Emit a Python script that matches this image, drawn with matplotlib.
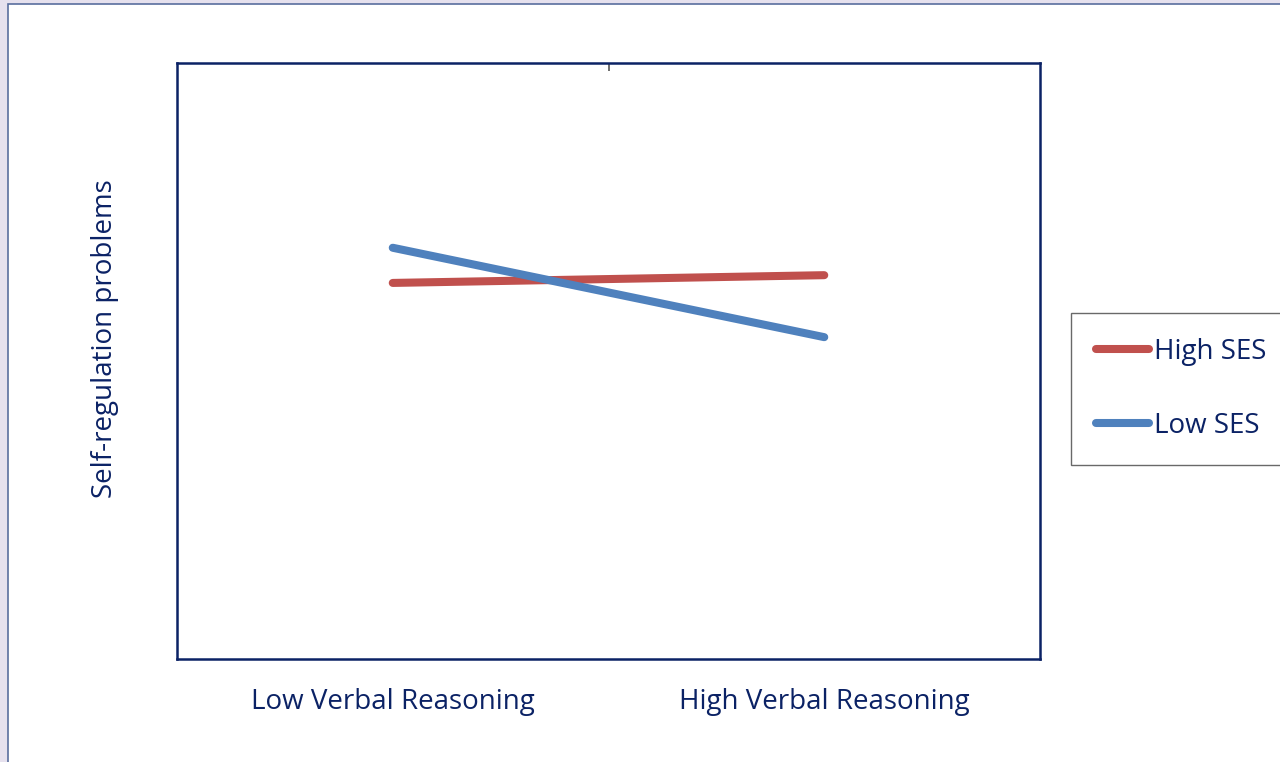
import matplotlib.pyplot as plt
from matplotlib.patches import Rectangle

# data
categories = ["Low Verbal Reasoning", "High Verbal Reasoning"]
high_ses = [0.631, 0.644]
low_ses = [0.690, 0.540]

navy = "#0B2265"
red = "#C0504D"
blue = "#4F81BD"

plt.rcParams['font.family'] = ['Open Sans', 'DejaVu Sans']

fig = plt.figure(figsize=(12.8, 7.62), dpi=100, facecolor="#E6E1EE")

# white page area with thin border (left/top)
W, H = 1280, 762
fig.patches.append(Rectangle((7.5 / W, -0.01), 1.02, 1 - 3.5 / H + 0.01,
                             transform=fig.transFigure, facecolor="white",
                             edgecolor="#5A6E9E", linewidth=1.2, zorder=-10))

ax = fig.add_axes([177 / W, 1 - 659 / H, (1040 - 177) / W, (659 - 63) / H])
ax.set_facecolor("white")

x = list(range(len(categories)))
ax.plot(x, high_ses, color=red, lw=5.8, solid_capstyle="round", label="High SES")
ax.plot(x, low_ses, color=blue, lw=5.8, solid_capstyle="round", label="Low SES")

ax.set_xlim(-0.5, 1.5)
ax.set_ylim(0, 1)
ax.set_xticks(x)
ax.set_xticklabels(categories, fontsize=20, color=navy)
ax.tick_params(axis="x", length=0, pad=21)
ax.set_yticks([])

for s in ax.spines.values():
    s.set_color(navy)
    s.set_linewidth(1.8)

# small tick at top centre
top = ax.secondary_xaxis("top")
top.set_xticks([0.5])
top.set_xticklabels([""])
top.tick_params(direction="in", length=6, width=1.2, color="#555555")
top.spines["top"].set_visible(False)

ax.set_ylabel("Self-regulation problems", fontsize=20, color=navy, labelpad=42)
ax.yaxis.label.set_y(0.537)

leg = fig.legend(loc="upper left", bbox_to_anchor=(1071 / W, 1 - 313 / H),
                 fontsize=20, frameon=True, fancybox=False, handlelength=1.9,
                 handletextpad=0.18, labelspacing=1.65, borderpad=0.9,
                 borderaxespad=0)
leg.get_frame().set_edgecolor("#444444")
leg.get_frame().set_linewidth(1.0)
for t in leg.get_texts():
    t.set_color(navy)

fig.savefig("out.png", dpi=100, facecolor=fig.get_facecolor())
